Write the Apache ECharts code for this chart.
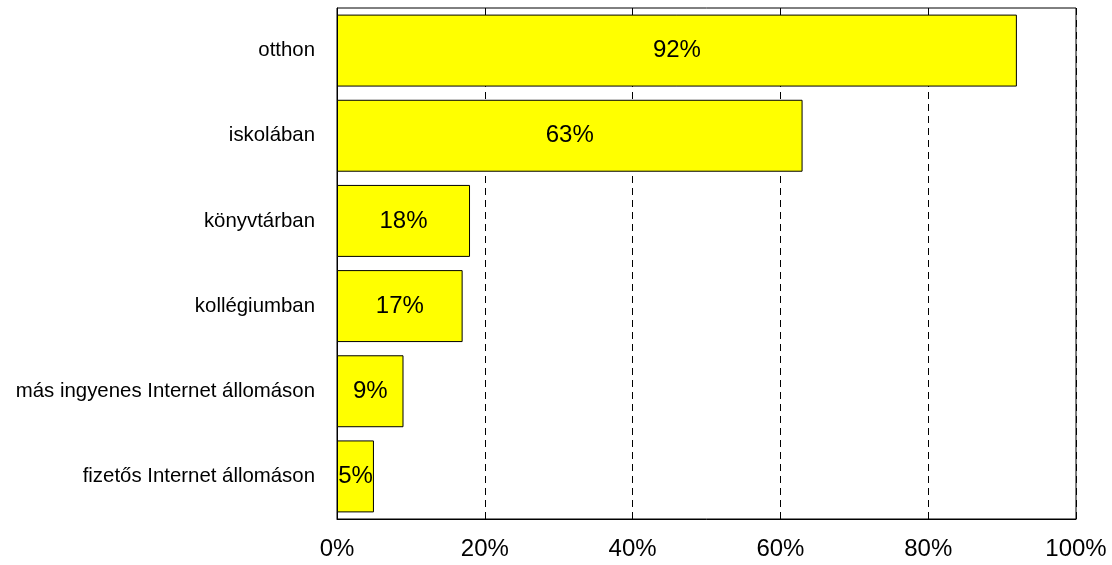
<!DOCTYPE html>
<html>
<head>
<meta charset="utf-8">
<script src="https://cdn.jsdelivr.net/npm/echarts@6/dist/echarts.min.js"></script>
<style>
html, body { margin: 0; padding: 0; background: #fff; }
#chartDiv { width: 1112px; height: 565px; }
</style>
</head>
<body>
<div id="chartDiv"></div>
<script>
var categories = ['otthon', 'iskolában', 'könyvtárban', 'kollégiumban', 'más ingyenes Internet állomáson', 'fizetős Internet állomáson'];
var values = [92, 63, 18, 17, 9, 5];
var tickLabels = ['0%', '20%', '40%', '60%', '80%', '100%'];

var fontName = '"Liberation Sans", Arial, sans-serif';

var dom = document.getElementById("chartDiv");
var myChart = echarts.init(dom);

var option = {
    animation: false,
    backgroundColor: '#fff',
    grid: {
        left: 337,
        right: 36,
        top: 8,
        bottom: 46,
        outerBoundsMode: 'none',
        containLabel: false,
        show: true,
        borderColor: '#000',
        borderWidth: 1
    },
    xAxis: {
        type: 'value',
        min: 0,
        max: 100,
        interval: 20,
        axisLine: { show: true, lineStyle: { color: '#000' } },
        axisTick: { show: false },
        axisLabel: {
            color: '#000',
            fontFamily: fontName,
            fontSize: 24,
            margin: 18,
            formatter: function (v) { return tickLabels[Math.round(v / 20)]; }
        },
        splitLine: {
            show: true,
            lineStyle: { color: '#000', type: [7, 5], width: 1 }
        }
    },
    yAxis: {
        type: 'category',
        data: categories,
        inverse: true,
        axisLine: { show: true, lineStyle: { color: '#000' } },
        axisTick: { show: false },
        axisLabel: {
            color: '#000',
            fontFamily: fontName,
            fontSize: 20.4,
            margin: 22
        }
    },
    series: [
        {
            type: 'bar',
            data: values,
            barCategoryGap: '15.5%',
            itemStyle: {
                color: '#ffff00',
                borderColor: '#000',
                borderWidth: 1
            },
            label: {
                show: true,
                position: 'inside',
                color: '#000',
                fontFamily: fontName,
                fontSize: 24,
                formatter: '{c}%'
            }
        }
    ]
};
myChart.setOption(option);
</script>
</body>
</html>
